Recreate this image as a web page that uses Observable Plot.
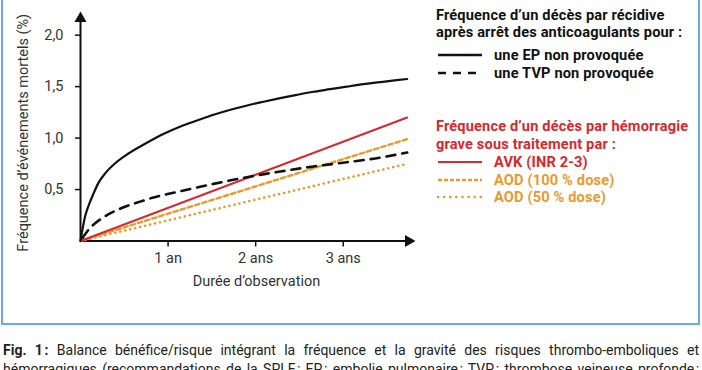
<!DOCTYPE html>
<html>
<head>
<meta charset="utf-8">
<script src="https://cdn.jsdelivr.net/npm/d3@7"></script>
<script src="https://cdn.jsdelivr.net/npm/@observablehq/plot@0.6"></script>
<style>
  html, body { margin: 0; padding: 0; background: #fff; overflow: hidden; }
  body { width: 702px; height: 370px; position: relative; font-family: Roboto, "Noto Sans", sans-serif; }
  #frame { position: absolute; left: 1px; top: -10px; width: 695px; height: 331px; border: 2.5px solid #6aa8ec; }
  #chart { position: absolute; left: 0; top: 0; }
  .lg { position: absolute; left: 436px; height: 18px; line-height: 18px; font-weight: 700; font-size: 14.6px; letter-spacing: 0.15px; white-space: nowrap; color: #111; }
  .sw { position: absolute; left: 437px; width: 46px; height: 6px; }
  .capline { position: absolute; left: 3px; width: 696px; height: 19px; font-size: 14px; line-height: 19px; color: #222; text-align: justify; text-align-last: justify; white-space: nowrap; }
</style>
</head>
<body>
<div id="frame"></div>
<div id="chart"></div>
<div id="legend"></div>
<div id="caption"></div>
<script>
// ---- data ----
const xTicks = [1, 2, 3];
const xTickLabels = ["1 an", "2 ans", "3 ans"];
const yTicks = [0.5, 1.0, 1.5, 2.0];

const epYears  = [0, 0.053, 0.091, 0.148, 0.205, 0.28, 0.396, 0.548, 0.738, 0.951, 1.142, 1.332, 1.52, 1.712, 1.903, 2.09, 2.28, 2.47, 2.66, 2.85, 3.04, 3.23, 3.42, 3.61, 3.73];
const epValues = [0, 0.24, 0.34, 0.46, 0.565, 0.655, 0.755, 0.85, 0.945, 1.042, 1.113, 1.171, 1.226, 1.275, 1.317, 1.353, 1.388, 1.42, 1.45, 1.475, 1.50, 1.524, 1.543, 1.563, 1.574];

const tvpYears  = [0, 0.083, 0.28, 0.47, 0.69, 0.82, 1.12, 1.52, 1.90, 2.28, 2.66, 3.04, 3.42, 3.73];
const tvpValues = [0, 0.10, 0.24, 0.32, 0.385, 0.42, 0.48, 0.555, 0.62, 0.675, 0.724, 0.765, 0.81, 0.86];

const linYears = [0, 3.73];
const avkValues = [0, 1.20];
const aod100Values = [0, 0.99];
const aod50Values = [0, 0.75];

const xMax = 3.745;
const yMax = 2.162;

const xTitle = "Durée d’observation";
const yTitle = "Fréquence d’événements mortels (%)";

const legendBlack = ["Fréquence d’un décès par récidive", "après arrêt des anticoagulants pour :"];
const legendBlackItems = ["une EP non provoquée", "une TVP non provoquée"];
const legendRed = ["Fréquence d’un décès par hémorragie", "grave sous traitement par :"];
const legendColorItems = ["AVK (INR 2-3)", "AOD (100 % dose)", "AOD (50 % dose)"];

const captionBold = "Fig. 1\u202f:";
const captionLine1 = " Balance bénéfice/risque intégrant la fréquence et la gravité des risques thrombo-emboliques et";
const captionLine2 = "hémorragiques (recommandations de la SPLF\u202f; EP\u202f: embolie pulmonaire\u202f; TVP\u202f: thrombose veineuse profonde\u202f;";

// ---- styles ----
const RED = "#d8282f";
const ORANGE = "#e99a2e";
const BLACK = "#111";

const toPts = (xs, ys) => xs.map((x, i) => ({x, y: ys[i]}));

const chart = Plot.plot({
  width: 420,
  height: 300,
  marginLeft: 80,
  marginRight: 12,
  marginTop: 18,
  marginBottom: 59.5,
  x: {domain: [0, xMax]},
  y: {domain: [0, yMax]},
  style: {fontFamily: "Roboto, sans-serif", fontSize: "14px", color: "#333", background: "transparent"},
  marks: [
    Plot.axisX({ticks: xTicks, tickFormat: d => xTickLabels[xTicks.indexOf(d)], tickSize: 6, tickPadding: 6, label: null, stroke: BLACK, strokeWidth: 1.5, fill: "#333", fontSize: 14.5}),
    Plot.axisY({ticks: yTicks, tickFormat: d => d.toFixed(1).replace(".", ","), tickSize: 5, tickPadding: 12, label: null, stroke: BLACK, strokeWidth: 1.5, fill: "#333", fontSize: 14.5}),
    Plot.ruleX([0], {stroke: BLACK, strokeWidth: 2}),
    Plot.ruleY([0], {stroke: BLACK, strokeWidth: 2}),
    Plot.dot([xMax], {x: d => d, y: 0, symbol: "triangle", rotate: 90, r: 4.5, fill: BLACK, stroke: null}),
    Plot.dot([yMax], {x: 0, y: d => d, symbol: "triangle", rotate: 0, r: 4.5, fill: BLACK, stroke: null}),
    Plot.text([xTitle], {text: d => d, frameAnchor: "bottom", textAnchor: "middle", dy: 45, dx: 12, fontSize: 14.5, fill: "#333"}),
    Plot.text([yTitle], {text: d => d, frameAnchor: "left", textAnchor: "middle", rotate: -90, dx: -57, dy: 3, fontSize: 14.5, fill: "#333"}),
    Plot.line(toPts(linYears, aod50Values), {x: "x", y: "y", stroke: ORANGE, strokeWidth: 2.6, strokeDasharray: "0.1 5", strokeLinecap: "round"}),
    Plot.line(toPts(linYears, aod100Values), {x: "x", y: "y", stroke: ORANGE, strokeWidth: 2.4, strokeDasharray: "4.5 3"}),
    Plot.line(toPts(linYears, avkValues), {x: "x", y: "y", stroke: RED, strokeWidth: 2}),
    Plot.line(toPts(tvpYears, tvpValues), {x: "x", y: "y", stroke: BLACK, strokeWidth: 2.6, strokeDasharray: "9 7", strokeDashoffset: -4, curve: "monotone-x"}),
    Plot.line(toPts(epYears, epValues), {x: "x", y: "y", stroke: BLACK, strokeWidth: 2.2, curve: "monotone-x"})
  ]
});
document.getElementById("chart").appendChild(chart);

// ---- legend (HTML text + small svg swatches) ----
const legend = document.getElementById("legend");
function addText(txt, cy, color, left) {
  const d = document.createElement("div");
  d.className = "lg";
  d.style.top = (cy - 9) + "px";
  d.style.color = color;
  if (left != null) d.style.left = left + "px";
  d.textContent = txt;
  legend.appendChild(d);
}
function addSwatch(cy, color, dash, width, cap) {
  const ns = "http://www.w3.org/2000/svg";
  const s = document.createElementNS(ns, "svg");
  s.setAttribute("class", "sw");
  s.setAttribute("width", 46); s.setAttribute("height", 6);
  s.style.top = (cy - 3) + "px";
  const l = document.createElementNS(ns, "line");
  l.setAttribute("x1", 1); l.setAttribute("x2", 45); l.setAttribute("y1", 3); l.setAttribute("y2", 3);
  l.setAttribute("stroke", color); l.setAttribute("stroke-width", width);
  if (dash) l.setAttribute("stroke-dasharray", dash);
  if (cap) l.setAttribute("stroke-linecap", cap);
  s.appendChild(l);
  legend.appendChild(s);
}
addText(legendBlack[0], 15, BLACK);
addText(legendBlack[1], 32, BLACK);
addSwatch(55, BLACK, null, 2.4);
addText(legendBlackItems[0], 55, BLACK, 494);
addSwatch(73, BLACK, "8 7", 2.6);
addText(legendBlackItems[1], 73, BLACK, 494);
addText(legendRed[0], 126, RED);
addText(legendRed[1], 144, RED);
addSwatch(162, RED, null, 2);
addText(legendColorItems[0], 162, RED, 494);
addSwatch(180, ORANGE, "4 2", 2.4);
addText(legendColorItems[1], 180, ORANGE, 494);
addSwatch(197, ORANGE, "0.1 6", 2.6, "round");
addText(legendColorItems[2], 197, ORANGE, 494);

// ---- caption (two justified lines) ----
const cap = document.getElementById("caption");
const l1 = document.createElement("div");
l1.className = "capline";
l1.style.top = "341px";
const b = document.createElement("b");
b.textContent = captionBold;
l1.appendChild(b);
const rest = document.createElement("span");
rest.textContent = captionLine1;
l1.appendChild(rest);
cap.appendChild(l1);
const l2 = document.createElement("div");
l2.className = "capline";
l2.style.top = "360px";
l2.textContent = captionLine2;
cap.appendChild(l2);
</script>
</body>
</html>
